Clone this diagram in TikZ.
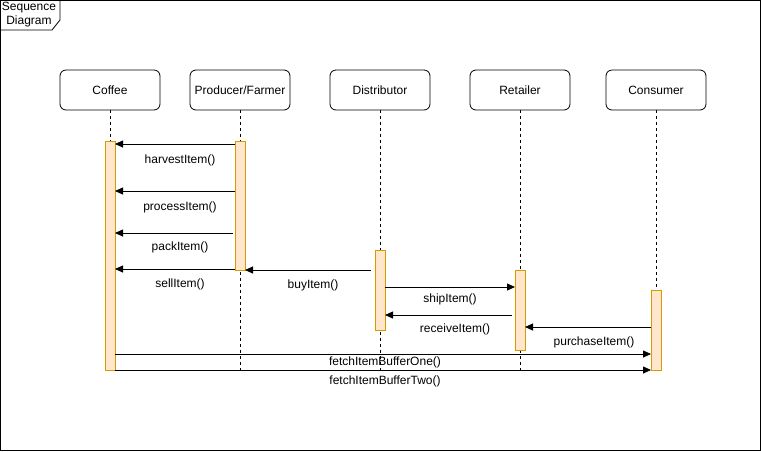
\documentclass[tikz,border=0pt]{standalone}
\usepackage{fontspec}
\setmainfont{Liberation Sans}
\usetikzlibrary{arrows.meta}
\definecolor{barfill}{HTML}{FFE6CC}
\definecolor{bardraw}{HTML}{D79B00}
\begin{document}
\begin{tikzpicture}[x=1pt,y=-1pt, font=\fontsize{12}{14}\selectfont,
  head/.style={draw, rounded corners=6pt, minimum width=100pt, minimum height=40pt, line width=0.8pt, inner sep=0pt},
  life/.style={dash pattern=on 3pt off 3pt, line width=0.6pt},
  bar/.style={draw=bardraw, fill=barfill, line width=0.9pt, minimum width=10pt, inner sep=0pt},
  msg/.style={-{Triangle[length=8pt,width=7pt]}, line width=0.8pt},
  lbl/.style={inner sep=0pt}]
\useasboundingbox (0,0) rectangle (761,451);
\fill[white] (0,0) rectangle (761,451);
\draw[line width=0.8pt] (0.5,0.5) rectangle (760.5,450.5);
% frame label
\draw[line width=0.8pt] (0.5,0.5) -- (60,0.5) -- (60,20) -- (52,30) -- (0.5,30);
\node[lbl, align=center, font=\fontsize{12}{14}\selectfont] (title) at (29,15) {Sequence\\Diagram};
% heads
\node[head] (coffee) at (110,90) {Coffee};
\node[head] (producer) at (240,90) {Producer/Farmer};
\node[head] (distributor) at (380,90) {Distributor};
\node[head] (retailer) at (520,90) {Retailer};
\node[head] (consumer) at (656,90) {Consumer};
% lifeline ends
\coordinate (ce) at (110,371);
\coordinate (pe) at (240,371);
\coordinate (de) at (380,371);
\coordinate (re) at (520,371);
\coordinate (ke) at (656,371);
\draw[life] (coffee.south) -- (ce);
\draw[life] (producer.south) -- (pe);
\draw[life] (distributor.south) -- (de);
\draw[life] (retailer.south) -- (re);
\draw[life] (consumer.south) -- (ke);
% activation bars
\node[bar, minimum height=229pt, anchor=north] (cbar) at (110,141) {};
\node[bar, minimum height=129pt, anchor=north] (pbar) at (240,141) {};
\node[bar, minimum height=80pt, anchor=north] (dbar) at (380,250) {};
\node[bar, minimum height=80pt, anchor=north] (rbar) at (520,270) {};
\node[bar, minimum height=80pt, anchor=north] (kbar) at (656,290) {};
% message endpoints
\coordinate (h1) at (235,144); \coordinate (h2) at (115,144);
\coordinate (p1) at (235,191); \coordinate (p2) at (115,191);
\coordinate (k1) at (233,233); \coordinate (k2) at (115,233);
\coordinate (s1) at (235,269); \coordinate (s2) at (115,269);
\coordinate (b1) at (371,270); \coordinate (b2) at (245,270);
\coordinate (sh1) at (385,287); \coordinate (sh2) at (515,287);
\coordinate (r1) at (512,315); \coordinate (r2) at (385,315);
\coordinate (pu1) at (651,327); \coordinate (pu2) at (525,327);
\coordinate (f1) at (115,354); \coordinate (f2) at (651,354);
\coordinate (g1) at (115,370); \coordinate (g2) at (651,370);
\draw[msg] (h1) -- (h2);
\draw[msg] (p1) -- (p2);
\draw[msg] (k1) -- (k2);
\draw[msg] (s1) -- (s2);
\draw[msg] (b1) -- (b2);
\draw[msg] (sh1) -- (sh2);
\draw[msg] (r1) -- (r2);
\draw[msg] (pu1) -- (pu2);
\draw[msg] (f1) -- (f2);
\draw[msg] (g1) -- (g2);
% labels
\node[lbl] (lh) at (180,160) {harvestItem()};
\node[lbl] (lp) at (180,207) {processItem()};
\node[lbl] (lk) at (180,247) {packItem()};
\node[lbl] (ls) at (180,284) {sellItem()};
\node[lbl] (lb) at (313,285) {buyItem()};
\node[lbl] (lsh) at (450,299) {shipItem()};
\node[lbl] (lr) at (455,329) {receiveItem()};
\node[lbl] (lpu) at (594,342) {purchaseItem()};
\node[lbl] (lf) at (385,362) {fetchItemBufferOne()};
\node[lbl] (lg) at (385,381) {fetchItemBufferTwo()};
\end{tikzpicture}
\end{document}
